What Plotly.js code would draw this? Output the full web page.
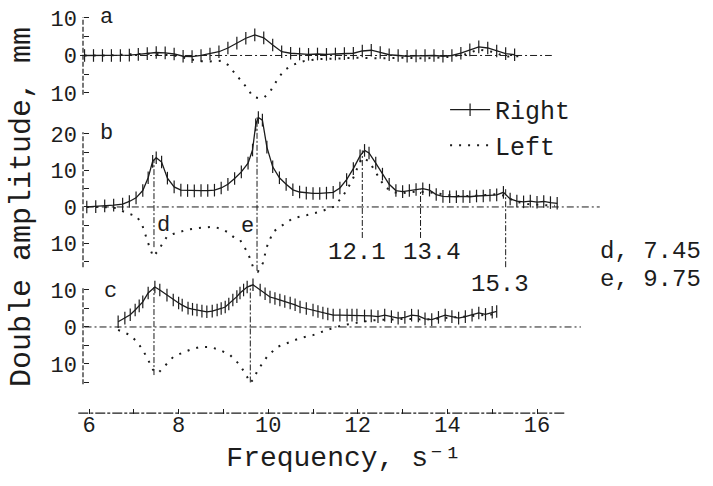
<!DOCTYPE html>
<html>
<head>
<meta charset="utf-8">
<script src="https://cdn.plot.ly/plotly-3.0.1.min.js"></script>
<style>html,body{margin:0;padding:0;background:#fff;}#chart{width:713px;height:486px;}</style>
</head>
<body>
<div id="chart"></div>
<script>
// ---------- DATA ----------
// Panel a
const aRightX = [5.9,6.1,6.3,6.5,6.7,6.9,7.1,7.3,7.5,7.7,7.9,8.1,8.3,8.5,8.7,8.9,9.1,9.3,9.5,9.7,9.9,10.1,10.3,10.5,10.7,10.9,11.1,11.3,11.5,11.7,11.9,12.1,12.3,12.5,12.7,12.9,13.1,13.3,13.5,13.7,13.9,14.1,14.3,14.5,14.7,14.9,15.1,15.3,15.5];
const aRightY = [0,0,0,0,0,0.1,0.3,0.5,0.8,0.7,0.4,-0.2,-0.3,0,0.4,1.0,2.0,3.3,4.6,5.5,4.7,2.8,1.0,0.6,0.4,0.3,0.4,0.3,0.4,0.5,0.6,1.2,1.4,0.8,0.2,0,-0.2,-0.1,0,0,-0.2,0,0.6,1.5,2.3,2.0,1.2,0.5,0.2];
const aLeftX = [5.9,6.4,6.9,7.4,7.9,8.2,8.45,8.7,8.95,9.1,9.2,9.37,9.53,9.66,9.8,9.9,10.04,10.2,10.35,10.55,10.8,11.1,11.5,12.0,12.5,13.0,13.5,14.0,14.4,14.7,15.0,15.3,15.6];
const aLeftY = [0,0,0.3,0.5,0,-0.8,-1.5,-1.6,-1.4,-2.5,-3.9,-6.5,-8.7,-11,-11.4,-11.3,-9.7,-6.5,-4.0,-2.5,-1.5,-1.0,-0.9,-0.6,-0.8,-0.6,-0.8,-0.4,0.3,1.6,1.0,-0.3,-0.2];
// Panel b
const bRightX = [5.95,6.15,6.35,6.55,6.75,6.9,7.05,7.2,7.32,7.42,7.5,7.62,7.75,7.9,8.05,8.2,8.35,8.5,8.65,8.8,8.95,9.1,9.25,9.4,9.55,9.65,9.72,9.78,9.87,9.97,10.1,10.25,10.4,10.55,10.7,10.85,11.0,11.15,11.3,11.45,11.6,11.75,11.9,12.05,12.15,12.25,12.4,12.55,12.7,12.85,13.0,13.15,13.3,13.45,13.6,13.75,13.9,14.05,14.2,14.35,14.5,14.65,14.8,14.95,15.1,15.25,15.4,15.55,15.7,15.85,16.0,16.15,16.3,16.45];
const bRightY = [0,0.1,0.3,0.5,0.8,1.5,2.5,4.5,8.0,12.5,13.5,12.3,7.9,5.5,4.6,4.5,4.4,4.5,4.5,4.6,5.2,6.2,7.8,9.6,12.0,15.6,22.5,24.5,23.8,16.4,11.0,8.0,6.2,4.7,4.1,3.8,3.7,3.7,3.8,4.0,5.2,7.5,10.5,14.0,15.5,14.8,12.0,9.0,6.2,4.5,4.2,4.5,4.8,5.0,4.6,3.4,2.9,2.8,2.8,2.9,2.8,3.0,3.0,3.2,3.3,4.0,2.2,1.6,1.4,1.6,1.3,1.5,1.2,1.0];
const bLeftX = [5.95,6.3,6.6,6.85,7.07,7.2,7.32,7.43,7.54,7.65,7.74,7.88,8.03,8.2,8.41,8.6,8.77,8.95,9.08,9.21,9.37,9.55,9.66,9.77,9.88,9.97,10.11,10.33,10.55,10.87,11.16,11.45,11.6,11.75,11.9,12.0,12.1,12.25,12.45,12.6,12.8,13.0,13.3,13.6,13.9,14.2,14.5,14.8,15.1,15.3,15.5,15.8,16.1,16.4];
const bLeftY = [0,0,-0.3,-1.7,-2.6,-5.4,-9.9,-13.6,-12.0,-9.9,-8.1,-7.4,-6.8,-6.2,-5.8,-5.6,-5.4,-6.0,-6.8,-8.1,-9.0,-12.7,-16.4,-17.7,-15.4,-10.9,-6.8,-4.9,-3.1,-2.2,-1.3,0,2.0,4.5,8.0,11.0,13.5,12.5,8.5,5.5,4.0,3.8,4.2,4.0,3.5,3.0,3.0,3.2,3.5,3.0,1.5,0.8,0.5,0.3];
// Panel c
const cRightX = [6.65,6.8,6.92,7.03,7.12,7.2,7.32,7.47,7.58,7.74,7.88,8.0,8.08,8.21,8.31,8.41,8.52,8.63,8.75,8.86,8.95,9.04,9.12,9.21,9.3,9.37,9.45,9.53,9.66,9.82,9.93,10.04,10.15,10.26,10.37,10.49,10.6,10.71,10.85,11.0,11.11,11.22,11.33,11.45,11.6,11.76,11.87,11.98,12.15,12.3,12.45,12.6,12.75,12.9,13.05,13.2,13.35,13.5,13.65,13.8,13.95,14.1,14.25,14.4,14.55,14.7,14.85,15.0,15.1];
const cRightY = [1.4,2.4,3.3,4.6,5.7,6.8,9.2,10.8,10.0,8.6,7.3,6.5,5.9,5.1,4.8,4.6,4.3,4.1,4.3,4.6,5.0,5.4,6.2,7.3,8.2,9.2,10.0,10.8,11.4,10.0,9.0,8.1,7.7,7.3,6.9,6.5,6.0,5.4,5.0,4.6,4.2,3.8,3.5,3.2,3.2,3.2,3.2,3.2,3.0,3.0,2.8,3.2,2.8,2.4,2.6,3.2,3.0,2.2,2.0,2.6,3.2,2.8,2.4,2.8,3.2,3.8,3.4,4.0,4.2];
const cLeftX = [6.65,6.8,6.92,7.07,7.2,7.32,7.43,7.54,7.65,7.76,7.88,8.08,8.25,8.48,8.7,8.92,9.15,9.37,9.53,9.59,9.66,9.77,9.87,9.97,10.2,10.42,10.71,11.0,11.31,11.67,11.9,12.3,12.7,13.1,13.5,13.9,14.3,14.7,15.0,15.1];
const cLeftY = [-0.8,-1.5,-2.2,-4.0,-6.2,-8.9,-11.6,-12.5,-11.0,-9.5,-8.1,-7.0,-6.2,-5.4,-5.4,-6.2,-7.6,-10.3,-13.5,-15.1,-14.3,-11.6,-9.8,-8.1,-5.4,-4.3,-3.0,-2.2,-0.8,0.5,1.0,1.8,2.0,2.2,2.0,2.4,2.6,3.0,3.4,3.0];

// Marked frequencies (panel b) and their vertical extents
const bMarkX    = [7.45, 9.75, 12.1, 13.4, 15.3];
const bMarkTop  = [13, 24.5, 15.5, 4.8, 5];
const bMarkBot  = [-11, -17.5, -8.5, -8.5, -16.5];
// Panel c peak markers
const cMarkX    = [7.45, 9.6];
const cMarkTop  = [10.8, 11.4];
const cMarkBot  = [-13, -15];
// Named resonances
const resNames  = ['d', 'e'];
const resFreq   = [7.45, 9.75];
// Zero-line extents for each panel
const aBaseX = [5.8, 16.33];
const bBaseX = [5.95, 17.4];
const cBaseX = [5.9, 16.98];
// Axis extents
const xAxisLine = [5.76, 16.63];
const aAxisLine = [-10.5, 10.2];
const bAxisLine = [-16.5, 20.5];
const cAxisLine = [-15.5, 11];
// Ticks (labels show magnitudes)
const xTickVals  = [6,8,10,12,14,16];
const xTickText  = ['6','8','10','12','14','16'];
const xMinorVals = [7,9,11,13,15];
const aTickVals  = [-10,0,10];
const aTickText  = ['10','0','10'];
const aMinorVals = [-5,5];
const bTickVals  = [-10,0,10,20];
const bTickText  = ['10','0','10','20'];
const bMinorVals = [-15,-5,5,15];
const cTickVals  = [-10,0,10];
const cTickText  = ['10','0','10'];
const cMinorVals = [-15,-5,5];
const seriesNames = ['Right', 'Left'];
const panelLetters = ['a', 'b', 'c'];

// ---------- STYLE ----------
const INK = '#1c1c1c';
const FONT = 'Liberation Mono, DejaVu Sans Mono, monospace';
const rightStyle = {
  mode: 'lines+markers',
  line: {color: INK, width: 1.3},
  marker: {symbol: 'line-ns-open', size: 9, line: {color: INK, width: 1.2}}
};
const leftStyle = {
  mode: 'lines',
  line: {color: INK, width: 2, dash: '2px,7px'}
};
function tr(x, y, ya, style, name, show) {
  return Object.assign({x: x, y: y, yaxis: ya, xaxis: 'x', name: name, showlegend: show,
    legendgroup: name, hoverinfo: 'skip', cliponaxis: false}, JSON.parse(JSON.stringify(style)));
}
const traces = [
  tr(aRightX, aRightY, 'y',  rightStyle, seriesNames[0], false),
  tr(aLeftX,  aLeftY,  'y',  leftStyle,  seriesNames[1], false),
  tr(bRightX, bRightY, 'y2', rightStyle, seriesNames[0], true),
  tr(bLeftX,  bLeftY,  'y2', leftStyle,  seriesNames[1], true),
  tr(cRightX, cRightY, 'y3', rightStyle, seriesNames[0], false),
  tr(cLeftX,  cLeftY,  'y3', leftStyle,  seriesNames[1], false)
];

const dashDot = '7px,3px,2px,3px';
const shapes = [];
function hline(xs, yref) {
  shapes.push({type:'line', xref:'x', yref:yref, x0:xs[0], x1:xs[1], y0:0, y1:0,
    line:{color:INK, width:1, dash:dashDot}, layer:'below'});
}
hline(aBaseX, 'y'); hline(bBaseX, 'y2'); hline(cBaseX, 'y3');
bMarkX.forEach((v,i)=>shapes.push({type:'line', xref:'x', yref:'y2', x0:v, x1:v, y0:bMarkBot[i], y1:bMarkTop[i],
  line:{color:INK, width:1, dash:'6px,2px,2px,2px'}, layer:'below'}));
cMarkX.forEach((v,i)=>shapes.push({type:'line', xref:'x', yref:'y3', x0:v, x1:v, y0:cMarkBot[i], y1:cMarkTop[i],
  line:{color:INK, width:1, dash:'6px,2px,2px,2px'}, layer:'below'}));
// axis lines (hand-drawn dashed look)
shapes.push({type:'line', xref:'x', yref:'paper', x0:xAxisLine[0], x1:xAxisLine[1], y0:0.002, y1:0.002,
  line:{color:INK, width:1.2, dash:'10px,2px,3px,2px'}});
const yPos = 0.0094;
[['y',aAxisLine],['y2',bAxisLine],['y3',cAxisLine]].forEach(p=>shapes.push({type:'line', xref:'paper', yref:p[0],
  x0:yPos, x1:yPos, y0:p[1][0], y1:p[1][1], line:{color:INK, width:1.2, dash:'5px,2px'}}));

// ---------- ANNOTATIONS ----------
const ann = [];
function txt(text, x, y, size, extra) {
  ann.push(Object.assign({text:text, xref:'paper', yref:'paper', x:x, y:y, showarrow:false,
    xanchor:'center', yanchor:'middle', font:{family:FONT, size:size, color:INK}}, extra||{}));
}
txt(panelLetters[0], 0.0545, 0.9589, 22);
txt(panelLetters[1], 0.0545, 0.6787, 22);
txt(panelLetters[2], 0.062, 0.2947, 22);
txt(resNames[0], 0.1598, 0.4565, 22);
txt(resNames[1], 0.3195, 0.4517, 22);
txt(String(bMarkX[2]), 0.5244, 0.3889, 24);
txt(String(bMarkX[3]), 0.6654, 0.3889, 24);
txt(String(bMarkX[4]), 0.7932, 0.3116, 24);
txt(resNames[0] + ', ' + resFreq[0], 1.0752, 0.3937, 24);
txt(resNames[1] + ', ' + resFreq[1], 1.0752, 0.3237, 24);
txt('Double amplitude, mm', -0.1053, 0.5, 30, {textangle:-90});

function yax(domain, range, tv, tt, mv) {
  return {domain:domain, range:range, anchor:'free', position:yPos, showgrid:false, zeroline:false,
    showline:false, tickmode:'array', tickvals:tv, ticktext:tt, ticks:'inside', ticklen:5,
    tickwidth:1, tickcolor:INK, tickfont:{family:FONT, size:22, color:INK}, ticklabelstandoff:6,
    minor:{tickmode:'array', tickvals:mv, ticks:'inside', ticklen:5, tickwidth:1, tickcolor:INK, showgrid:false},
    fixedrange:true};
}

const layout = {
  width:713, height:486,
  margin:{l:78, r:103, t:0, b:72},
  paper_bgcolor:'#ffffff', plot_bgcolor:'#ffffff',
  font:{family:FONT, color:INK, size:22},
  showlegend:true,
  legend:{x:0.69, y:0.79, xanchor:'left', yanchor:'top', bgcolor:'rgba(0,0,0,0)',
    font:{family:FONT, size:25, color:INK}, tracegroupgap:0, itemwidth:40},
  xaxis:{range:[5.754,17.629], anchor:'free', position:0, showgrid:false, zeroline:false, showline:false,
    tickmode:'array', tickvals:xTickVals, ticktext:xTickText, ticks:'inside', ticklen:5, tickwidth:1,
    tickcolor:INK, tickfont:{family:FONT, size:22, color:INK}, ticklabelstandoff:-5,
    minor:{tickmode:'array', tickvals:xMinorVals, ticks:'inside', ticklen:5, tickwidth:1, tickcolor:INK, showgrid:false},
    title:{text:'Frequency, s\u207B\u00B9', font:{family:FONT, size:28, color:INK}, standoff:8},
    fixedrange:true},
  yaxis: yax([0.7591,0.9620], [-11.8,10.6], aTickVals, aTickText, aMinorVals),
  yaxis2: yax([0.3370,0.7249], [-18.5,25.5], bTickVals, bTickText, bMinorVals),
  yaxis3: yax([0.0628,0.3174], [-16.5,12], cTickVals, cTickText, cMinorVals),
  shapes: shapes,
  annotations: ann
};

Plotly.newPlot('chart', traces, layout, {displayModeBar:false, staticPlot:true}).then(function(){
  // drop empty placeholder text nodes (unused titles, baseline-reset spans)
  document.querySelectorAll('text, tspan').forEach(function(t){
    if(!t.textContent.replace(/[\s\u200b\u00a0]/g, '')) t.remove();
  });
});
</script>
</body>
</html>
